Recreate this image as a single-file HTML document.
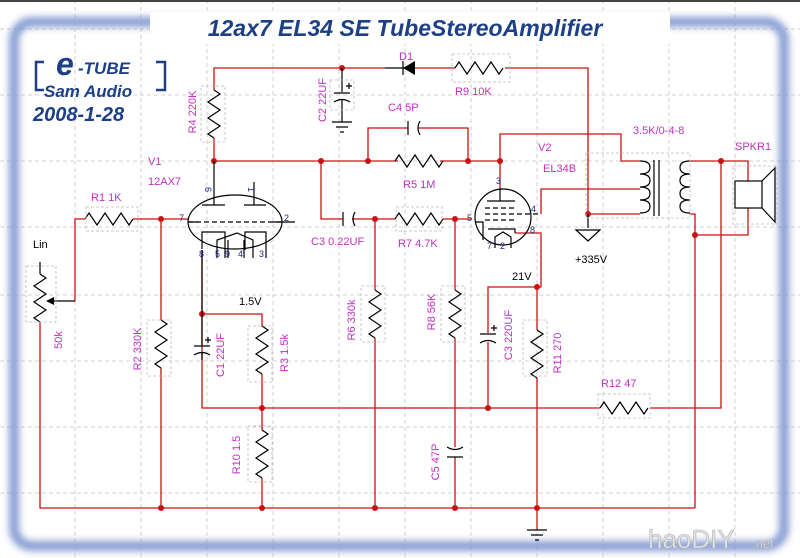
<!DOCTYPE html>
<html><head><meta charset="utf-8"><style>
html,body{margin:0;padding:0;background:#fff;width:800px;height:558px;overflow:hidden}
svg{display:block}
.w{stroke:#cc1111;stroke-width:1.3;fill:none}
.b{stroke:#000;stroke-width:1.2;fill:none}
.l{font-family:"Liberation Sans",sans-serif;font-size:11px;fill:#c030c0}
.k{font-family:"Liberation Sans",sans-serif;font-size:11px;fill:#000}
.n{font-family:"Liberation Sans",sans-serif;font-size:9px;fill:#1a2a90}
.g{stroke:#d2d2d2;stroke-width:1;stroke-dasharray:4 3}
.bx{stroke:#bbb;stroke-width:.8;stroke-dasharray:3 2;fill:none}
</style></head><body>
<svg width="800" height="558" viewBox="0 0 800 558" xmlns="http://www.w3.org/2000/svg">
<defs>
<path id="rv" d="M0 0 l6 4 l-12 8 l12 8 l-12 8 l12 8 l-12 8 l6 4" class="b"/>
<path id="rh" d="M0 0 l4 -6 l8 12 l8 -12 l8 12 l8 -12 l8 12 l4 -6" class="b"/>
<filter id="bl"><feGaussianBlur stdDeviation="4"/></filter>
</defs>
<rect width="800" height="558" fill="#fff"/>
<g class="g">
<line x1="75" y1="0" x2="75" y2="558"/><line x1="141" y1="0" x2="141" y2="558"/><line x1="207" y1="0" x2="207" y2="558"/><line x1="273" y1="0" x2="273" y2="558"/><line x1="339" y1="0" x2="339" y2="558"/><line x1="405" y1="0" x2="405" y2="558"/><line x1="471" y1="0" x2="471" y2="558"/><line x1="537" y1="0" x2="537" y2="558"/><line x1="603" y1="0" x2="603" y2="558"/><line x1="669" y1="0" x2="669" y2="558"/><line x1="735" y1="0" x2="735" y2="558"/>
<line x1="0" y1="29" x2="800" y2="29"/><line x1="0" y1="95" x2="800" y2="95"/><line x1="0" y1="161" x2="800" y2="161"/><line x1="0" y1="227" x2="800" y2="227"/><line x1="0" y1="295" x2="800" y2="295"/><line x1="0" y1="361" x2="800" y2="361"/><line x1="0" y1="427" x2="800" y2="427"/><line x1="0" y1="493" x2="800" y2="493"/>
</g>
<rect x="14" y="22" width="770" height="524" rx="18" fill="none" stroke="#7890cc" stroke-width="9" filter="url(#bl)"/>
<rect x="14" y="22" width="770" height="524" rx="18" fill="none" stroke="#9aacdc" stroke-width="2.5"/>
<rect x="150" y="12" width="520" height="32" fill="#fff"/>
<line x1="0" y1="1" x2="800" y2="1" stroke="#444" stroke-width="2"/>
<text x="405" y="36" text-anchor="middle" font-family="Liberation Sans,sans-serif" font-size="23" font-weight="bold" font-style="italic" fill="#1c3f86">12ax7 EL34 SE TubeStereoAmplifier</text>
<g fill="#1c3f86" font-family="Liberation Sans,sans-serif" font-weight="bold" font-style="italic">
<text x="56" y="75" font-size="32">e</text><text x="78" y="74" font-size="17">-TUBE</text>
<text x="44" y="97" font-size="17">Sam Audio</text>
<text x="33" y="121" font-size="20">2008-1-28</text>
</g>
<path d="M44 62 h-8 v28 h8 M156 62 h9 v28 h-9" stroke="#1c3f86" stroke-width="2.5" fill="none"/>

<g class="w">
<path d="M214 90 V68 H385 M415 68 H455 M505 68 H588 V214"/>
<path d="M214 138 V161 H398 M440 161 H500 V188"/>
<path d="M368 161 V128 H408 M418 128 H468 V161"/>
<path d="M500 161 V134 H621 V161 H640"/>
<path d="M541 214 V189 H640"/>
<path d="M588 214 H640"/>
<path d="M690 161 H748 V181 M748 208 V235 H695 M690 214 H695 V508"/>
<path d="M721 161 V408 H650 M600 408 H202 V250"/>
<path d="M75 301 V219 H85 M133 219 H188"/>
<path d="M40 322 V508 H695"/>
<path d="M161 219 V320 M161 368 V508"/>
<path d="M202 314 H262 V326 M262 374 V430 M262 478 V508"/>
<path d="M321 161 V219 H343 M352 219 H395 M443 219 H472"/>
<path d="M375 219 V290 M375 338 V508"/>
<path d="M455 219 V290 M455 338 V447 M455 457 V508"/>
<path d="M515 233 H541 V287 H488 V333 M488 342 V408"/>
<path d="M537 287 V330 M537 378 V508 M537 508 V530"/>
</g>
<g fill="#cc1111">
<circle cx="342" cy="68" r="3"/><circle cx="214" cy="161" r="3"/><circle cx="321" cy="161" r="3"/><circle cx="368" cy="161" r="3"/><circle cx="468" cy="161" r="3"/><circle cx="500" cy="161" r="3"/>
<circle cx="588" cy="214" r="3"/><circle cx="721" cy="161" r="3"/><circle cx="695" cy="235" r="3"/>
<circle cx="161" cy="219" r="3"/><circle cx="375" cy="219" r="3"/><circle cx="455" cy="219" r="3"/>
<circle cx="202" cy="314" r="3"/><circle cx="262" cy="408" r="3"/><circle cx="488" cy="408" r="3"/><circle cx="537" cy="287" r="3"/>
<circle cx="161" cy="508" r="3"/><circle cx="262" cy="508" r="3"/><circle cx="375" cy="508" r="3"/><circle cx="455" cy="508" r="3"/><circle cx="537" cy="508" r="3"/>
</g>
<use href="#rv" x="214" y="90"/>
<use href="#rh" x="455" y="68"/>
<use href="#rh" x="395" y="161"/>
<use href="#rh" x="85" y="219"/>
<use href="#rh" x="395" y="219"/>
<use href="#rv" x="161" y="320"/>
<use href="#rv" x="262" y="326"/>
<use href="#rv" x="262" y="430"/>
<use href="#rv" x="375" y="290"/>
<use href="#rv" x="455" y="290"/>
<use href="#rv" x="537" y="330"/>
<use href="#rh" x="600" y="408"/>
<use href="#rv" x="40" y="274"/>
<path d="M40 262 V274 M75 301 H52" class="b"/><path d="M46 301 l8 -4 v8z" fill="#000"/>
<path d="M385 68 H415 M403 61 v14" class="b"/><path d="M403 68 l12 -7 v14z" fill="#000"/>
<g class="b">
<path d="M342 68 V92 M334 93 h16 M334 102 q8 -5 16 0 M342 100 V122 M332 122 h20 M336 127 h12 M340 132 h4 M346 86 h6 M349 83 v6"/>
<path d="M408 121 v14 M420 121 q-4 7 0 14"/>
<path d="M343 212 v14 M355 212 q-4 7 0 14"/>
<path d="M202 250 V345 M194 346 h16 M194 355 q8 -5 16 0 M202 353 V360 M205 340 h6 M208 337 v6"/>
<path d="M480 334 h16 M480 343 q8 -5 16 0 M491 328 h6 M494 325 v6"/>
<path d="M447 447 q8 5 16 0 M447 457 h16"/>
<path d="M527 530 h20 M531 535 h12 M535 540 h4"/>
<path d="M588 214 V228 M576 230 h24 l-12 11 z"/>
</g>
<g class="b">
<ellipse cx="235" cy="222" rx="47" ry="27"/>
<path d="M188 222 H282" stroke-dasharray="5 3"/>
<path d="M188 222 H198 M272 222 H295 M202 249 V232 H225 V258 M266 258 V232 H245 V250 M217 258 V240 L237 233 L253 240 V258 M228 258 V240 M244 258 V240"/>
</g>
<path d="M214 161 V205 M202 205 H225 M254 182 V205 M244 205 H266" class="b"/>
<g class="n"><text x="179" y="221">7</text><text x="284" y="221">2</text><text x="205" y="193" transform="rotate(90 208 190)">6</text><text x="248" y="193" transform="rotate(90 251 190)">1</text><text x="199" y="257">8</text><text x="215" y="257">5</text><text x="225" y="257">9</text><text x="238" y="257">4</text><text x="259" y="257">3</text></g>
<g class="b">
<circle cx="503" cy="217" r="28"/>
<path d="M500 188 V201 M487 201 H515"/>
<path d="M485 208 H515 M485 214 H541 M485 220 H515" stroke-dasharray="5 3"/>
<path d="M475 222 H483 V240 M488 229 H515 V233 M495 248 V237 L503 232 L511 237 V248"/>
</g>
<g class="n"><text x="467" y="221">5</text><text x="531" y="212">4</text><text x="530" y="233">8</text><text x="496" y="184">3</text><text x="487" y="249">7</text><text x="500" y="249">2</text></g>
<g class="b">
<path d="M640 161 q10 0 10 6.5 q0 6.5 -10 6.5 q10 0 10 6.5 q0 6.5 -10 6.5 q10 0 10 6.5 q0 6.5 -10 6.5 q10 0 10 6.5 q0 6.5 -10 6.5"/>
<path d="M690 161 q-10 0 -10 6.5 q0 6.5 10 6.5 q-10 0 -10 6.5 q0 6.5 10 6.5 q-10 0 -10 6.5 q0 6.5 10 6.5 q-10 0 -10 6.5 q0 6.5 10 6.5"/>
<path d="M654 160 V216 M659 160 V216"/>
<rect x="735" y="181" width="27" height="27"/>
<path d="M762 181 L775 168 V222 L762 208"/>
</g>
<g class="bx"><rect x="201" y="86" width="24" height="56"/><rect x="330" y="80" width="24" height="30"/><rect x="452" y="54" width="58" height="28"/><rect x="86" y="207" width="52" height="24"/><rect x="396" y="207" width="46" height="24"/><rect x="586" y="153" width="104" height="65"/><rect x="733" y="166" width="44" height="58"/><rect x="147" y="320" width="24" height="56"/><rect x="248" y="326" width="24" height="56"/><rect x="248" y="426" width="24" height="56"/><rect x="361" y="286" width="24" height="56"/><rect x="441" y="286" width="24" height="56"/><rect x="523" y="320" width="24" height="56"/><rect x="598" y="394" width="52" height="24"/><rect x="26" y="266" width="30" height="56"/></g>
<g class="l">
<text transform="translate(196,112) rotate(-90)" text-anchor="middle">R4 220K</text>
<text transform="translate(326,100) rotate(-90)" text-anchor="middle">C2 22UF</text>
<text x="399" y="60">D1</text><text x="455" y="95">R9 10K</text>
<text x="388" y="111">C4 5P</text><text x="403" y="188">R5 1M</text>
<text x="148" y="165">V1</text><text x="148" y="185">12AX7</text><text x="91" y="201">R1 1K</text>
<text x="538" y="151">V2</text><text x="543" y="172">EL34B</text><text x="633" y="134">3.5K/0-4-8</text><text x="735" y="150">SPKR1</text>
<text x="311" y="245">C3 0.22UF</text><text x="398" y="247">R7 4.7K</text>
<text transform="translate(62,340) rotate(-90)" text-anchor="middle">50k</text>
<text transform="translate(141,349) rotate(-90)" text-anchor="middle">R2 330K</text>
<text transform="translate(224,355) rotate(-90)" text-anchor="middle">C1 22UF</text>
<text transform="translate(288,353) rotate(-90)" text-anchor="middle">R3 1.5k</text>
<text transform="translate(240,455) rotate(-90)" text-anchor="middle">R10 1.5</text>
<text transform="translate(355,320) rotate(-90)" text-anchor="middle">R6 330k</text>
<text transform="translate(435,312) rotate(-90)" text-anchor="middle">R8 56K</text>
<text transform="translate(512,335) rotate(-90)" text-anchor="middle">C3 220UF</text>
<text transform="translate(561,353) rotate(-90)" text-anchor="middle">R11 270</text>
<text transform="translate(439,462) rotate(-90)" text-anchor="middle">C5 47P</text>
<text x="601" y="387">R12 47</text>
</g>
<g class="k"><text x="33" y="248">Lin</text><text x="575" y="263">+335V</text><text x="512" y="280">21V</text><text x="239" y="305">1.5V</text></g>
<text x="648" y="548" font-family="Liberation Sans,sans-serif" font-size="26" fill="#e4e4e4" stroke="#b0b0b0" stroke-width=".6">haoDIY</text>
<text x="752" y="548" font-family="Liberation Sans,sans-serif" font-size="13" fill="#e4e4e4" stroke="#b0b0b0" stroke-width=".5">.net</text>
</svg>
</body></html>
